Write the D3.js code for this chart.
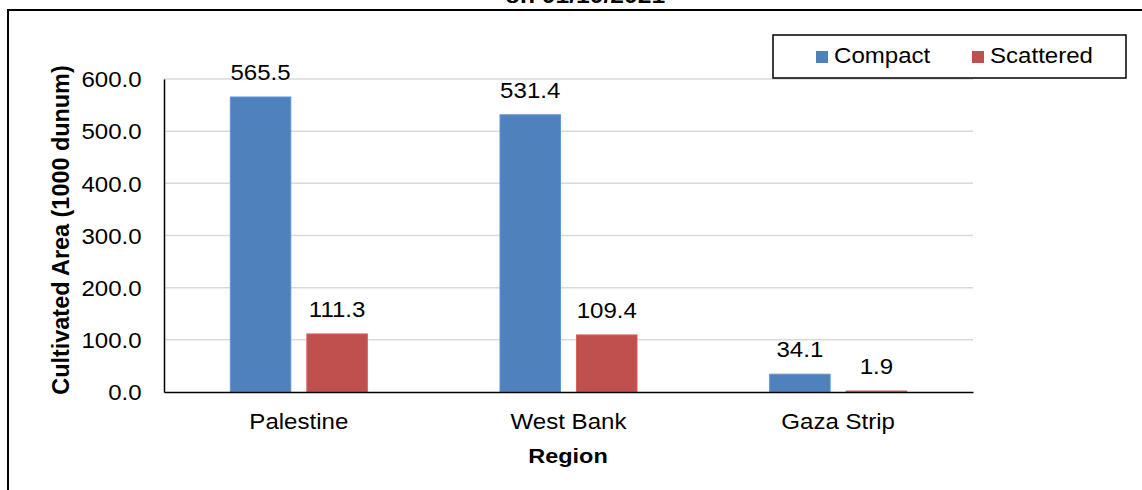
<!DOCTYPE html>
<html>
<head>
<meta charset="utf-8">
<script src="https://cdn.jsdelivr.net/npm/d3@7/dist/d3.min.js"></script>
<style>
  html, body { margin: 0; padding: 0; background: #fff; }
  svg { display: block; font-family: "Liberation Sans", Arial, sans-serif; }
</style>
</head>
<body>
<svg id="chart" width="1142" height="490"></svg>
<script>
const categories = ["Palestine", "West Bank", "Gaza Strip"];
const seriesNames = ["Compact", "Scattered"];
const compactValues = [565.5, 531.4, 34.1];
const scatteredValues = [111.3, 109.4, 1.9];
const yTicks = [0, 100, 200, 300, 400, 500, 600];
const titleText = "on 01/10/2021";
const yTitle = "Cultivated Area (1000 dunum)";
const xTitle = "Region";
const colors = ["#4F81BD", "#C0504D"];

const seriesValues = [compactValues, scatteredValues];
const svg = d3.select("#chart");
const SX = 1.12; // horizontal glyph stretch seen in reference

const plot = { left: 164, right: 973, top: 79, bottom: 392 };

const x0 = d3.scaleBand().domain(categories).range([plot.left, plot.right]).paddingInner(0).paddingOuter(0);
const x1 = d3.scaleBand().domain(seriesNames).range([-68.5, 68.5]).paddingInner(0.21);
const y = d3.scaleLinear().domain([0, 600]).range([plot.bottom, plot.top]);

// outer frame
svg.append("path")
  .attr("d", `M8,492 L8,10 L1150,10`)
  .attr("fill", "none").attr("stroke", "#000").attr("stroke-width", 2);

// title (partially cut off at the top, as in the reference)
svg.append("text")
  .attr("transform", `translate(585,3) scale(${SX},1)`)
  .attr("text-anchor", "middle")
  .attr("font-size", 22).attr("font-weight", "bold")
  .text(titleText);

// gridlines
svg.append("g").selectAll("line")
  .data(yTicks.filter(d => d > 0))
  .join("line")
  .attr("x1", plot.left).attr("x2", plot.right)
  .attr("y1", d => y(d)).attr("y2", d => y(d))
  .attr("stroke", "#D9D9D9").attr("stroke-width", 1.5);

// y axis
const yAxis = svg.append("g")
  .attr("transform", `translate(${plot.left},0)`)
  .call(d3.axisLeft(y).tickValues(yTicks).tickFormat(d3.format(".1f")).tickSize(0).tickPadding(20));
yAxis.select(".domain").attr("stroke", "#000").attr("stroke-width", 1.5);
yAxis.selectAll("text")
  .attr("font-size", 21.5).attr("fill", "#000")
  .attr("font-family", "Liberation Sans, Arial, sans-serif")
  .attr("dy", "0.36em")
  .attr("transform", `scale(${SX},1)`);

// bars
const groups = svg.append("g").selectAll("g")
  .data(categories)
  .join("g")
  .attr("transform", d => `translate(${x0(d) + x0.bandwidth() / 2},0)`);

groups.selectAll("rect")
  .data((d, i) => seriesNames.map((s, j) => ({ s, j, v: seriesValues[j][i] })))
  .join("rect")
  .attr("x", d => x1(d.s))
  .attr("width", x1.bandwidth())
  .attr("y", d => y(d.v))
  .attr("height", d => y(0) - y(d.v))
  .attr("fill", d => colors[d.j])
  .attr("stroke", d => d3.color(colors[d.j]).brighter(0.4))
  .attr("stroke-width", 1);

groups.selectAll("text")
  .data((d, i) => seriesNames.map((s, j) => ({ s, j, v: seriesValues[j][i] })))
  .join("text")
  .attr("transform", d => `translate(${x1(d.s) + x1.bandwidth() / 2},${y(d.v) - 17}) scale(${SX},1)`)
  .attr("text-anchor", "middle")
  .attr("font-size", 21.5)
  .text(d => d.v.toFixed(1));

// x axis
const xAxis = svg.append("g")
  .attr("transform", `translate(0,${plot.bottom})`)
  .call(d3.axisBottom(x0).tickSize(0).tickPadding(0));
xAxis.select(".domain").attr("stroke", "#000").attr("stroke-width", 1.5);
xAxis.selectAll("text")
  .attr("font-size", 21.5).attr("fill", "#000")
  .attr("font-family", "Liberation Sans, Arial, sans-serif")
  .attr("y", 0).attr("dy", 0)
  .attr("transform", `translate(0,37) scale(${SX},1)`);

// axis titles
svg.append("text")
  .attr("transform", `translate(69,230) rotate(-90) scale(1.04,1.1)`)
  .attr("text-anchor", "middle")
  .attr("font-size", 22.5).attr("font-weight", "bold")
  .text(yTitle);

svg.append("text")
  .attr("transform", `translate(568,463) scale(${SX},1)`)
  .attr("text-anchor", "middle")
  .attr("font-size", 21).attr("font-weight", "bold")
  .text(xTitle);

// legend
const legend = svg.append("g");
legend.append("rect")
  .attr("x", 773).attr("y", 35).attr("width", 353).attr("height", 43)
  .attr("fill", "#fff").attr("stroke", "#000").attr("stroke-width", 1.5);
const legendX = [816, 972];
const li = legend.selectAll("g.item").data(seriesNames).join("g").attr("class", "item")
  .attr("transform", (d, i) => `translate(${legendX[i]},51)`);
li.append("rect").attr("width", 12).attr("height", 12).attr("fill", (d, i) => colors[i]);
li.append("text")
  .attr("transform", `translate(18,12) scale(${SX},1)`)
  .attr("font-size", 21.5)
  .text(d => d);
</script>
</body>
</html>
